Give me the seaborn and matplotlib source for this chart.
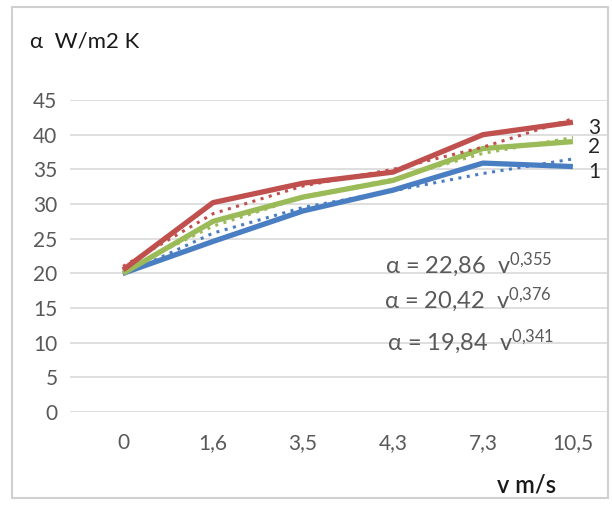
# alpha = f(v) : three measured series + power trendlines
import matplotlib
matplotlib.use("Agg")
import matplotlib.pyplot as plt
import seaborn as sns
import pandas as pd
from matplotlib.patches import Rectangle

speeds = ["0", "1,6", "3,5", "4,3", "7,3", "10,5"]
series_names = ["1", "2", "3"]

alpha_1 = [20.0, 24.6, 29.0, 32.0, 35.9, 35.4]
alpha_2 = [20.0, 27.5, 31.0, 33.4, 38.0, 39.0]
alpha_3 = [20.5, 30.2, 33.0, 34.6, 40.0, 41.8]

# dotted trend curves
trend_1 = [19.8, 25.8, 29.5, 31.9, 34.4, 36.5]
trend_2 = [20.4, 26.8, 31.0, 33.6, 37.3, 39.6]
trend_3 = [21.0, 28.6, 32.6, 35.0, 38.2, 42.3]

equations = ["α = 22,86  v$^{0{,}355}$", "α = 20,42  v$^{0{,}376}$", "α = 19,84  v$^{0{,}341}$"]

colors = {"1": "#4A7EC2", "2": "#9BBB59", "3": "#C0504D"}

df = pd.DataFrame({
    "v": speeds * 3,
    "serie": sum([[s] * len(speeds) for s in series_names], []),
    "alpha": alpha_1 + alpha_2 + alpha_3,
    "trend": trend_1 + trend_2 + trend_3,
})

sns.set_theme(style="white")
plt.rcParams["font.family"] = ["Lato", "DejaVu Sans"]
plt.rcParams["mathtext.default"] = "regular"

fig = plt.figure(figsize=(6.12, 5.05), dpi=100)
ax = fig.add_axes([70 / 612, 93 / 505, 538 / 612, 312 / 505])

for s in series_names:
    sub = df[df["serie"] == s]
    sns.lineplot(data=sub, x="v", y="alpha", color=colors[s], lw=3.8, ax=ax,
                 sort=False, solid_capstyle="butt")
    sns.lineplot(data=sub, x="v", y="trend", color=colors[s], lw=2.2, ax=ax,
                 sort=False, linestyle=(0, (1, 1.8)))
    ax.annotate(s, (len(speeds) - 1, sub["alpha"].iloc[-1]), xytext=(11, -4),
                textcoords="offset points", fontsize=15, color="#262626", va="center")

ax.set_xlim(-0.59, 5.39)
ax.set_ylim(0, 45)
ax.set_yticks(range(0, 46, 5))
ax.yaxis.grid(True, color="#D9D9D9", lw=1.2)
ax.set_axisbelow(True)
for sp in ax.spines.values():
    sp.set_visible(False)
ax.tick_params(axis="y", length=0, pad=9, labelsize=15, labelcolor="#595959")
ax.tick_params(axis="x", length=0, pad=15, labelsize=15, labelcolor="#595959")
ax.set_xlabel("")
ax.set_ylabel("")

for txt, xf, yf in zip(equations, [0.585, 0.583, 0.590], [0.471, 0.359, 0.225]):
    ax.text(xf, yf, txt, transform=ax.transAxes, fontsize=17, color="#595959", va="center")

fig.text(30 / 612, 1 - 42 / 505, "α  W/m2 K", fontsize=16, color="#1a1a1a", va="center")
fig.text(556 / 612, 1 - 485 / 505, "v m/s", fontsize=17, color="#1a1a1a", va="center",
         ha="right", fontweight="semibold")

fig.patches.append(Rectangle((12 / 612, 1 - 498 / 505), 596 / 612, 491 / 505,
                             transform=fig.transFigure, fill=False, ec="#D0D0D0", lw=1.5))

fig.savefig("out.png", dpi=100)
